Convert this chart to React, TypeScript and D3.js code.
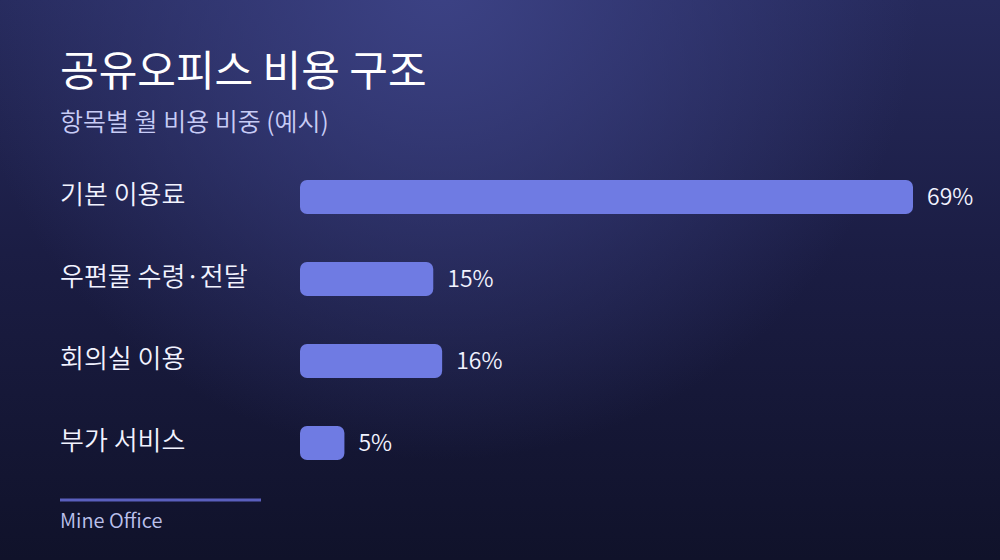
import React, {useEffect, useRef} from "react";
import * as d3 from "d3";

const categories = ["기본 이용료", "우편물 수령·전달", "회의실 이용", "부가 서비스"];
const shares = [69, 15, 16, 5];

const title = "공유오피스 비용 구조";
const subtitle = "항목별 월 비용 비중 (예시)";
const source = "Mine Office";

const App: React.FC = () => {
    const svgRef = useRef<SVGSVGElement | null>(null);

    useEffect(() => {
        if (!svgRef.current) return;
        const svg = d3.select(svgRef.current);
        svg.selectAll("*").remove();

        const width = 1000;
        const height = 560;
        const font = "'Noto Sans CJK KR', 'Noto Sans', sans-serif";

        const defs = svg.append("defs");
        const lin = defs.append("linearGradient")
            .attr("id", "bg-lin")
            .attr("x1", 0).attr("y1", 0).attr("x2", 0).attr("y2", 1);
        lin.append("stop").attr("offset", "0%").attr("stop-color", "#262a5c");
        lin.append("stop").attr("offset", "45%").attr("stop-color", "#1b1d44");
        lin.append("stop").attr("offset", "100%").attr("stop-color", "#10122a");

        const rad = defs.append("radialGradient")
            .attr("id", "bg-rad")
            .attr("gradientUnits", "userSpaceOnUse")
            .attr("cx", 440).attr("cy", -20).attr("r", 480);
        rad.append("stop").attr("offset", "0%").attr("stop-color", "#3c4285").attr("stop-opacity", 1);
        rad.append("stop").attr("offset", "100%").attr("stop-color", "#3c4285").attr("stop-opacity", 0);

        svg.append("rect").attr("width", width).attr("height", height).attr("fill", "url(#bg-lin)");
        svg.append("rect").attr("width", width).attr("height", height).attr("fill", "url(#bg-rad)");

        // titles
        svg.append("text")
            .attr("x", 60).attr("y", 86)
            .attr("font-family", font).attr("font-size", 42)
            .attr("fill", "#ffffff")
            .text(title);
        svg.append("text")
            .attr("x", 60).attr("y", 131)
            .attr("font-family", font).attr("font-size", 25).attr("font-weight", 350)
            .attr("fill", "#c8ccf6")
            .text(subtitle);

        const x = d3.scaleLinear()
            .domain([0, d3.max(shares) || 0])
            .range([300, 913]);

        // step 82, bar 34
        const y = d3.scaleBand()
            .domain(categories)
            .range([180, 460])
            .paddingInner(48 / 82)
            .paddingOuter(0);

        const rows = svg.append("g")
            .selectAll("g")
            .data(categories.map((c, i) => ({c, v: shares[i]})))
            .join("g");

        rows.append("rect")
            .attr("x", x(0))
            .attr("y", (d) => y(d.c) || 0)
            .attr("width", (d) => x(d.v) - x(0))
            .attr("height", y.bandwidth())
            .attr("rx", 7)
            .attr("fill", "#6f7be3");

        rows.append("text")
            .attr("x", 60)
            .attr("y", (d) => (y(d.c) || 0) + y.bandwidth() / 2)
            .attr("dy", "0.28em")
            .attr("font-family", font).attr("font-size", 26).attr("font-weight", 350)
            .attr("fill", "#f2f3ff")
            .text((d) => d.c);

        rows.append("text")
            .attr("x", (d) => x(d.v) + 14)
            .attr("y", (d) => (y(d.c) || 0) + y.bandwidth() / 2)
            .attr("dy", "0.36em")
            .attr("font-family", font).attr("font-size", 23).attr("font-weight", 350)
            .attr("fill", "#f2f3ff")
            .text((d) => `${d.v}%`);

        // footer
        svg.append("line")
            .attr("x1", 60).attr("x2", 261)
            .attr("y1", 500).attr("y2", 500)
            .attr("stroke", "#5a5fbd").attr("stroke-width", 3);
        svg.append("text")
            .attr("x", 60).attr("y", 528)
            .attr("font-family", font).attr("font-size", 20).attr("font-weight", 350)
            .attr("fill", "#bcc1ec")
            .text(source);
    }, []);

    return (
        <svg
            ref={svgRef}
            width={1000}
            height={560}
            viewBox="0 0 1000 560"
            style={{display: "block", position: "absolute", left: 0, top: 0}}
        ></svg>
    );
};

export default App;
